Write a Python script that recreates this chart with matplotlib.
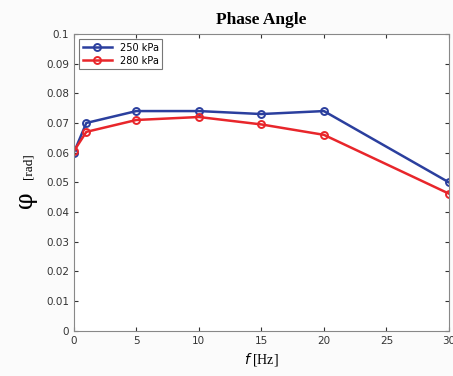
import matplotlib
matplotlib.use("Agg")
import matplotlib.pyplot as plt

freq = [0, 1, 5, 10, 15, 20, 30]
phase_250 = [0.0600, 0.0700, 0.0740, 0.0740, 0.0730, 0.0740, 0.0500]
phase_280 = [0.0605, 0.0670, 0.0710, 0.0720, 0.0695, 0.0660, 0.0462]
labels = ["250 kPa", "280 kPa"]

fig = plt.figure(figsize=(4.53, 3.76), dpi=100, facecolor="#fbfbfb")
ax = fig.add_axes([0.163, 0.12, 0.828, 0.79])
ax.set_facecolor("white")

ax.plot(freq, phase_250, "-o", color="#2b3f9e", lw=1.8, ms=5,
        mfc="none", mew=1.4, label=labels[0])
ax.plot(freq, phase_280, "-o", color="#e8262b", lw=1.8, ms=5,
        mfc="none", mew=1.4, label=labels[1])

ax.set_xlim(0, 30)
ax.set_ylim(0, 0.1)
ax.set_xticks([0, 5, 10, 15, 20, 25, 30])
ax.set_yticks([i / 100 for i in range(11)])
ax.set_yticklabels(["0"] + ["%.2f" % (i / 100) for i in range(1, 10)] + ["0.1"])
ax.tick_params(labelsize=7.5, colors="#333333", direction="in", length=3,
               top=True, right=True)
for s in ax.spines.values():
    s.set_color("#888888")

ax.set_title("Phase Angle", fontsize=12.5, fontweight="bold",
             family="Liberation Serif", pad=7)
ax.set_xlabel(r"$f$ [Hz]", fontsize=10, family="Liberation Serif")
ax.text(-0.128, 0.44, "\u03c6", transform=ax.transAxes, rotation=90,
        fontsize=17, va="center", ha="center", family="DejaVu Serif")
ax.text(-0.12, 0.555, "[rad]", transform=ax.transAxes, rotation=90,
        fontsize=9.5, va="center", ha="center", family="Liberation Serif")

leg = ax.legend(loc="upper left", fontsize=7, frameon=True, fancybox=False,
                edgecolor="#555555", handlelength=3, borderaxespad=0.5,
                borderpad=0.4, labelspacing=0.3)
leg.get_frame().set_linewidth(0.8)

fig.savefig("out.png", dpi=100, facecolor=fig.get_facecolor())
